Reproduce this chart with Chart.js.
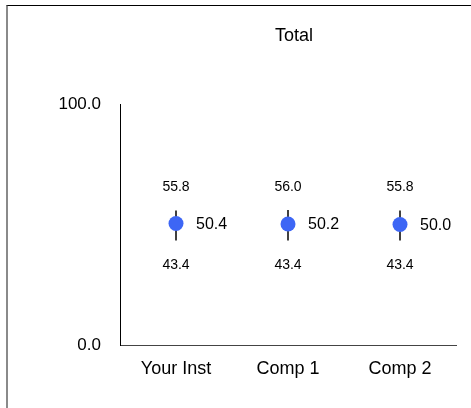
<!DOCTYPE html>
<html>
<head>
<meta charset="utf-8">
<script src="https://cdn.jsdelivr.net/npm/chart.js@4/dist/chart.umd.min.js"></script>
<style>
  html, body { margin: 0; padding: 0; background: #fff; }
  #wrap { position: relative; width: 471px; height: 408px; overflow: hidden; }
  #frame {
    position: absolute; left: 6px; top: 5px; width: 470px; height: 410px;
    border-top: 1px solid #000; border-left: 2px solid #8a8a8a;
  }
  #chart { position: absolute; left: 0; top: 0; }
</style>
</head>
<body>
<div id="wrap">
  <div id="frame"></div>
  <canvas id="chart" width="471" height="408"></canvas>
</div>
<script>
const chartTitle = 'Total';
const categories = ['Your Inst', 'Comp 1', 'Comp 2'];
const means      = [50.4, 50.2, 50.0];
const upper      = [55.8, 56.0, 55.8];
const lower      = [43.4, 43.4, 43.4];
const yTicks     = [0, 100];

const FONT = "'Liberation Sans', Arial, Helvetica, sans-serif";

const errorBars = {
  id: 'errorBars',
  beforeDatasetsDraw(chart) {
    const ctx  = chart.ctx;
    const y    = chart.scales.y;
    const meta = chart.getDatasetMeta(0);
    ctx.save();
    ctx.strokeStyle = '#000';
    ctx.lineWidth = 1.5;
    meta.data.forEach((pt, i) => {
      ctx.beginPath();
      ctx.moveTo(pt.x, y.getPixelForValue(upper[i]));
      ctx.lineTo(pt.x, y.getPixelForValue(lower[i]));
      ctx.stroke();
    });
    ctx.restore();
  },
  afterDatasetsDraw(chart) {
    const ctx  = chart.ctx;
    const y    = chart.scales.y;
    const meta = chart.getDatasetMeta(0);
    ctx.save();
    ctx.fillStyle = '#000';
    ctx.textBaseline = 'middle';
    meta.data.forEach((pt, i) => {
      ctx.font = '14px ' + FONT;
      ctx.textAlign = 'center';
      ctx.fillText(upper[i].toFixed(1), pt.x, y.getPixelForValue(upper[i]) - 23);
      ctx.fillText(lower[i].toFixed(1), pt.x, y.getPixelForValue(lower[i]) + 25);
      ctx.font = '16px ' + FONT;
      ctx.textAlign = 'left';
      ctx.fillText(means[i].toFixed(1), pt.x + 20, pt.y + 1);
    });
    // title
    ctx.font = '18px ' + FONT;
    ctx.textAlign = 'center';
    ctx.fillText(chartTitle, 294, 36);
    ctx.restore();
  }
};

new Chart(document.getElementById('chart').getContext('2d'), {
  type: 'line',
  data: {
    labels: categories,
    datasets: [{
      data: means,
      showLine: false,
      pointRadius: 7.5,
      pointHoverRadius: 7.5,
      pointBackgroundColor: '#3d66f5',
      pointBorderColor: '#3d66f5',
      pointBorderWidth: 0
    }]
  },
  options: {
    responsive: false,
    animation: false,
    events: [],
    layout: { padding: { left: 0, right: 15, top: 104, bottom: 0 } },
    plugins: {
      legend: { display: false },
      tooltip: { enabled: false }
    },
    scales: {
      x: {
        offset: true,
        grid: { display: false, drawTicks: false },
        border: { display: true, color: '#444', width: 1 },
        ticks: { color: '#000', padding: 13, font: { family: FONT, size: 18 } },
        afterFit(scale) { scale.height = 63; }
      },
      y: {
        min: 0, max: 100,
        grid: { display: false, drawTicks: false },
        border: { display: true, color: '#000', width: 1 },
        afterBuildTicks(scale) { scale.ticks = yTicks.map(v => ({ value: v })); },
        ticks: {
          color: '#000', padding: 19,
          font: { family: FONT, size: 17 },
          callback: v => Number(v).toFixed(1)
        },
        afterFit(scale) { scale.width = 120; }
      }
    }
  },
  plugins: [errorBars]
});
</script>
</body>
</html>
